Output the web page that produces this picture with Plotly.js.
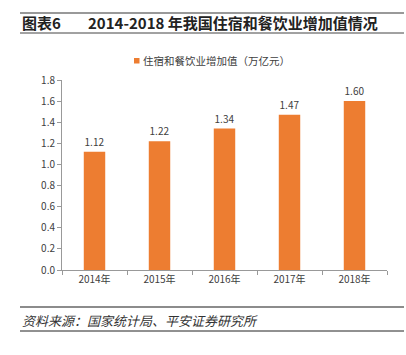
<!DOCTYPE html>
<html><head><meta charset="utf-8">
<script src="https://cdn.plot.ly/plotly-3.0.1.min.js"></script>
<style>html,body{margin:0;padding:0;background:#fff}#c{width:406px;height:355px}</style>
</head><body><div id="c"></div>
<script>
const years = ['2014年','2015年','2016年','2017年','2018年'];
const values = [1.12, 1.22, 1.34, 1.47, 1.60];
const labels = ['1.12','1.22','1.34','1.47','1.60'];
const seriesName = '住宿和餐饮业增加值（万亿元）';
const yTicks = [0,0.2,0.4,0.6,0.8,1.0,1.2,1.4,1.6,1.8];
const barColor = '#ED7D31';

const W = 406, H = 355;
const L = 62, R = 19, T = 80, B = 85;
const PW = W - L - R, PH = H - T - B;
const font = '"Noto Sans CJK SC", "DejaVu Sans", sans-serif';
const px = x => (x - L) / PW;
const py = y => (H - B - y) / PH;

const trace = {
  type: 'bar', x: years, y: values, name: seriesName,
  marker: {color: barColor}, width: 0.33,
  text: labels, textposition: 'outside', cliponaxis: false,
  textfont: {family: font, size: 10, color: '#404040'},
  showlegend: false
};

const layout = {
  width: W, height: H,
  margin: {l: L, r: R, t: T, b: B},
  paper_bgcolor: '#fff', plot_bgcolor: '#fff',
  font: {family: font, color: '#404040'},
  showlegend: false,
  xaxis: {
    type: 'category', showline: true, linecolor: '#999', linewidth: 1,
    ticks: 'outside', tickson: 'boundaries', ticklen: 4, tickcolor: '#999',
    tickfont: {size: 10, color: '#404040', family: font}, showgrid: false, zeroline: false
  },
  yaxis: {
    range: [0, 1.8], tickvals: yTicks, tickformat: '.1f',
    showline: true, linecolor: '#999', linewidth: 1,
    ticks: 'outside', ticklen: 4, tickcolor: '#999',
    tickfont: {size: 10, color: '#404040', family: font}, showgrid: false, zeroline: false
  },
  shapes: [
    {type: 'line', xref: 'paper', yref: 'paper', x0: px(20), x1: px(404), y0: py(13), y1: py(13), line: {color: '#777', width: 1.5}},
    {type: 'line', xref: 'paper', yref: 'paper', x0: px(20), x1: px(404), y0: py(33), y1: py(33), line: {color: '#444', width: 1}},
    {type: 'line', xref: 'paper', yref: 'paper', x0: px(20), x1: px(404), y0: py(307), y1: py(307), line: {color: '#666', width: 1.5}},
    {type: 'line', xref: 'paper', yref: 'paper', x0: px(20), x1: px(404), y0: py(331), y1: py(331), line: {color: '#222', width: 1}},
    {type: 'rect', xref: 'paper', yref: 'paper', x0: px(134), x1: px(139.5), y0: py(63.5), y1: py(58), line: {width: 0}, fillcolor: barColor}
  ],
  annotations: [
    {xref: 'paper', yref: 'paper', x: px(141), y: py(60.5), xanchor: 'left', yanchor: 'middle', showarrow: false,
     text: seriesName, font: {family: font, size: 10.5, color: '#404040'}},
    {xref: 'paper', yref: 'paper', x: px(20), y: py(23), xanchor: 'left', yanchor: 'middle', showarrow: false,
     text: '<b>图表6</b>', font: {family: font, size: 15, color: '#222'}},
    {xref: 'paper', yref: 'paper', x: px(86), y: py(23), xanchor: 'left', yanchor: 'middle', showarrow: false,
     text: '<b>2014-2018 年我国住宿和餐饮业增加值情况</b>', font: {family: font, size: 15, color: '#222'}},
    {xref: 'paper', yref: 'paper', x: px(20), y: py(320), xanchor: 'left', yanchor: 'middle', showarrow: false,
     text: '<i>资料来源：国家统计局、平安证券研究所</i>', font: {family: font, size: 13, color: '#333'}}
  ]
};

Plotly.newPlot('c', [trace], layout, {displayModeBar: false, staticPlot: true});
</script></body></html>
